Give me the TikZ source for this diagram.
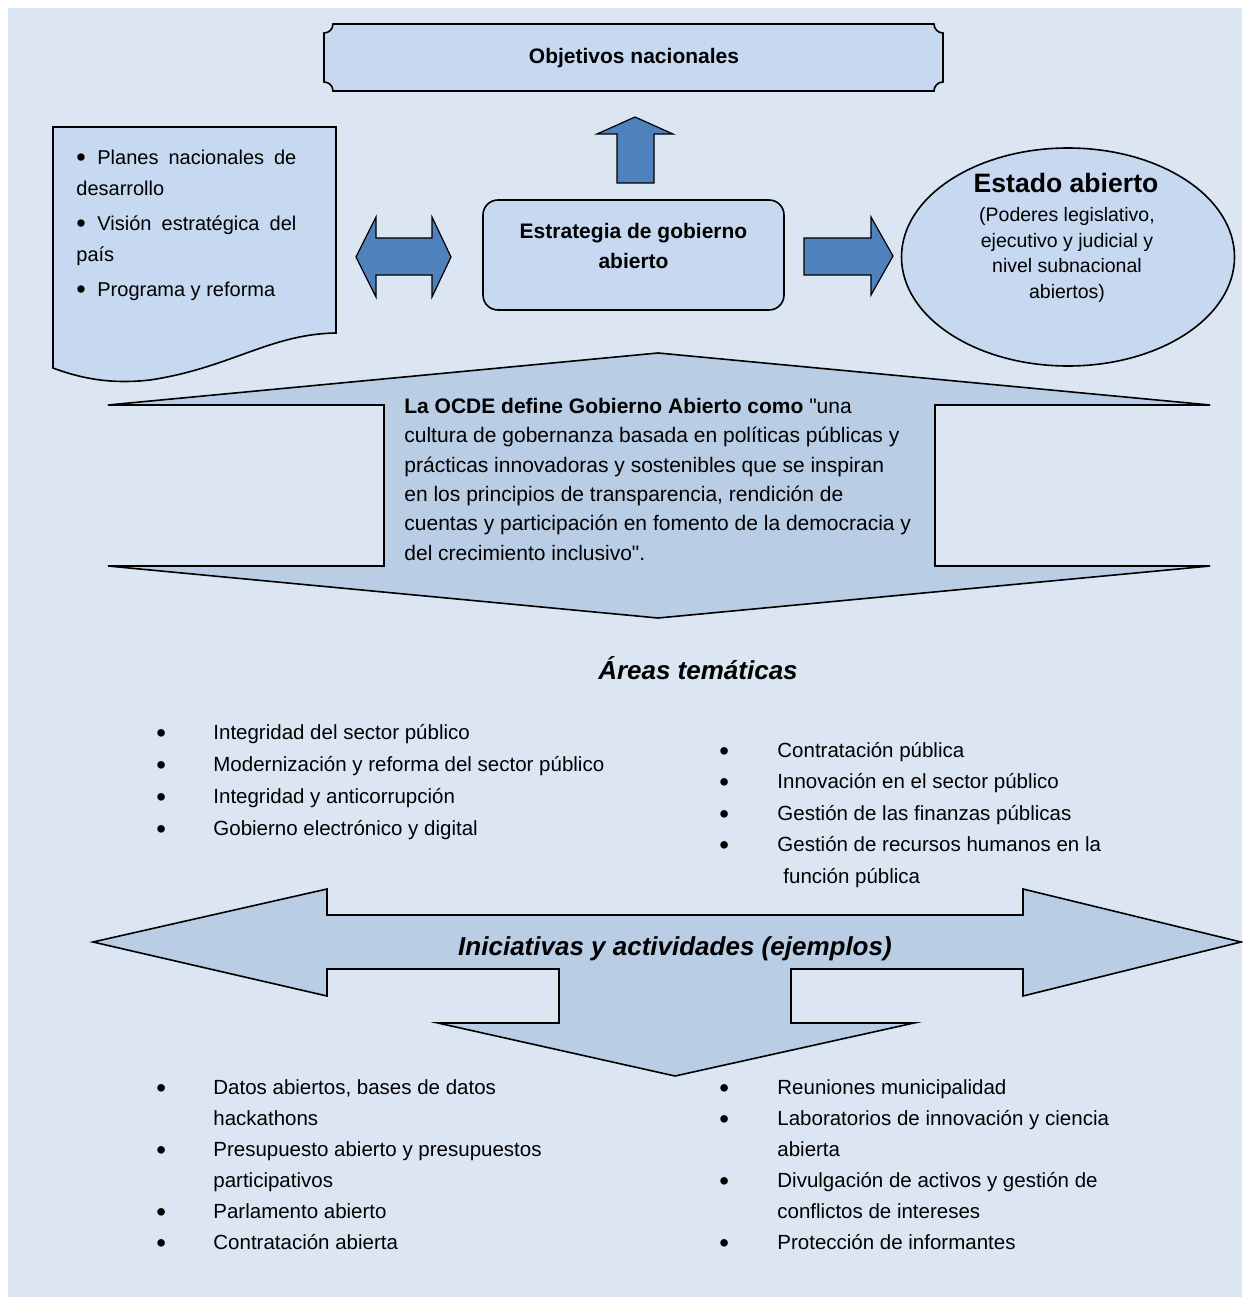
\documentclass[tikz,border=0pt]{standalone}
\usepackage{fontspec}
\setmainfont{Liberation Sans}
\usepackage{tikz}
\usetikzlibrary{positioning,shapes.geometric}
\definecolor{pagebg}{HTML}{DCE6F2}
\definecolor{boxfill}{HTML}{C6D9F1}
\definecolor{calloutfill}{HTML}{B9CDE5}
\definecolor{arrowblue}{HTML}{4F81BD}
\newcommand\dotmark{\raisebox{-1.3pt}{\scalebox{1.35}{\textbullet}}}

\begin{document}
\begin{tikzpicture}[
x=0.5pt,
y=-0.5pt,
every node/.style={inner sep=0pt},
frame/.style={draw=black,line width=0.8pt,fill=boxfill},
callout/.style={draw=black,line width=0.8pt,fill=calloutfill},
blockarr/.style={draw=black,line width=0.6pt,fill=arrowblue},
title/.style={font=\fontsize{10.5pt}{15pt}\selectfont\bfseries,align=center},
heading/.style={font=\fontsize{13pt}{16pt}\selectfont\bfseries\itshape,anchor=base},
listtext/.style={align=left,anchor=north west}
]
\useasboundingbox (0,0) rectangle (1242,1300);
\fill[white] (0,0) rectangle (1242,1300);
\fill[pagebg] (8,8) rectangle (1242,1297);

% top plaque
\draw[frame] (333,24) -- (934,24) .. controls (934,29) and (938,33) .. (943,33)
  -- (943,82) .. controls (938,82) and (934,86) .. (934,91)
  -- (333,91) .. controls (333,86) and (329,82) .. (324,82)
  -- (324,33) .. controls (329,33) and (333,29) .. (333,24) -- cycle;
\node[title,anchor=base] (objetivos) at (634,64) {Objetivos nacionales};
\draw[blockarr] (617,183) -- (617,134) -- (597,134) -- (635,117) -- (673,134) -- (654,134) -- (654,183) -- cycle;

% document shape
\draw[frame] (53,127) -- (336,127) -- (336,333)
  .. controls (270,334) and (230,368) .. (150,380)
  .. controls (115,384) and (85,380) .. (53,368) -- cycle;
\node[listtext,font=\fontsize{10pt}{15.5pt}\selectfont] (planes) at (76,142) {\strut\makebox[110pt][s]{\makebox[10.5pt][l]{\dotmark}Planes nacionales de}\\
desarrollo\\[2pt]
\makebox[110pt][s]{\makebox[10.5pt][l]{\dotmark}Visión estratégica del}\\
país\\[2pt]
\makebox[10.5pt][l]{\dotmark}Programa y reforma};
\draw[blockarr] (356,257) -- (376,217) -- (376,238) -- (432,238) -- (432,217) -- (451,257) -- (432,297) -- (432,275) -- (376,275) -- (376,297) -- cycle;

% strategy box
\node[frame,rounded corners=7.5pt,minimum width=150.5pt,minimum height=55pt] (estrategia) at (633.5,255) {};
\node[title,anchor=north] (estrategiatxt) at (633.5,217) {\strut Estrategia de gobierno\\abierto};
\draw[blockarr] (804,238) -- (871,238) -- (871,217) -- (893,256) -- (871,295) -- (871,275) -- (804,275) -- cycle;

% open state
\node[frame,ellipse,minimum width=166.5pt,minimum height=109pt] (estado) at (1068,257) {};
\node[anchor=base,font=\fontsize{13.3pt}{16pt}\selectfont\bfseries] (estadotitle) at (1066,193) {Estado abierto};
\node[anchor=north,align=center,font=\fontsize{9.75pt}{12.85pt}\selectfont] (estadosub) at (1067,203) {\strut(Poderes legislativo,\\ejecutivo y judicial y\\nivel subnacional\\abiertos)};

% OCDE callout
\draw[callout] (108,405) -- (658,353) -- (1210,405) -- (935,405) -- (935,566) -- (1210,566) -- (658,618) -- (108,566) -- (384,566) -- (384,405) -- cycle;
\node[listtext,font=\fontsize{10.5pt}{14.7pt}\selectfont] (ocde) at (404,392.4) {\strut\textbf{La OCDE define Gobierno Abierto como} \textquotedbl una\\
cultura de gobernanza basada en políticas públicas y\\
prácticas innovadoras y sostenibles que se inspiran\\
en los principios de transparencia, rendición de\\
cuentas y participación en fomento de la democracia y\\
del crecimiento inclusivo\textquotedbl.};

\node[heading] (areas) at (698,679) {Áreas temáticas};
\node[listtext,font=\fontsize{10.25pt}{16pt}\selectfont] (areasleft) at (156,716.6) {\strut\makebox[28.5pt][l]{\dotmark}Integridad del sector público\\
\makebox[28.5pt][l]{\dotmark}Modernización y reforma del sector público\\
\makebox[28.5pt][l]{\dotmark}Integridad y anticorrupción\\
\makebox[28.5pt][l]{\dotmark}Gobierno electrónico y digital};
\node[listtext,font=\fontsize{10.25pt}{15.75pt}\selectfont] (areasright) at (719,735) {\strut\makebox[29pt][l]{\dotmark}Contratación pública\\
\makebox[29pt][l]{\dotmark}Innovación en el sector público\\
\makebox[29pt][l]{\dotmark}Gestión de las finanzas públicas\\
\makebox[29pt][l]{\dotmark}Gestión de recursos humanos en la\\
\hspace*{32pt}función pública};

% initiatives callout
\draw[callout] (93,942) -- (327,889) -- (327,915) -- (1023,915) -- (1023,889) -- (1241,942) -- (1023,996) -- (1023,969) -- (791,969) -- (791,1023) -- (914,1023) -- (675,1076) -- (438,1023) -- (559,1023) -- (559,969) -- (327,969) -- (327,996) -- cycle;
\node[heading] (iniciativas) at (675,955) {Iniciativas y actividades (ejemplos)};
\node[listtext,font=\fontsize{10.25pt}{15.5pt}\selectfont] (iniciativasleft) at (156,1072.3) {\strut\makebox[28.5pt][l]{\dotmark}Datos abiertos, bases de datos\\
\hspace*{28.5pt}hackathons\\
\makebox[28.5pt][l]{\dotmark}Presupuesto abierto y presupuestos\\
\hspace*{28.5pt}participativos\\
\makebox[28.5pt][l]{\dotmark}Parlamento abierto\\
\makebox[28.5pt][l]{\dotmark}Contratación abierta};
\node[listtext,font=\fontsize{10.25pt}{15.5pt}\selectfont] (iniciativasright) at (719,1072.3) {\strut\makebox[29pt][l]{\dotmark}Reuniones municipalidad\\
\makebox[29pt][l]{\dotmark}Laboratorios de innovación y ciencia\\
\hspace*{29pt}abierta\\
\makebox[29pt][l]{\dotmark}Divulgación de activos y gestión de\\
\hspace*{29pt}conflictos de intereses\\
\makebox[29pt][l]{\dotmark}Protección de informantes};
\end{tikzpicture}
\end{document}
